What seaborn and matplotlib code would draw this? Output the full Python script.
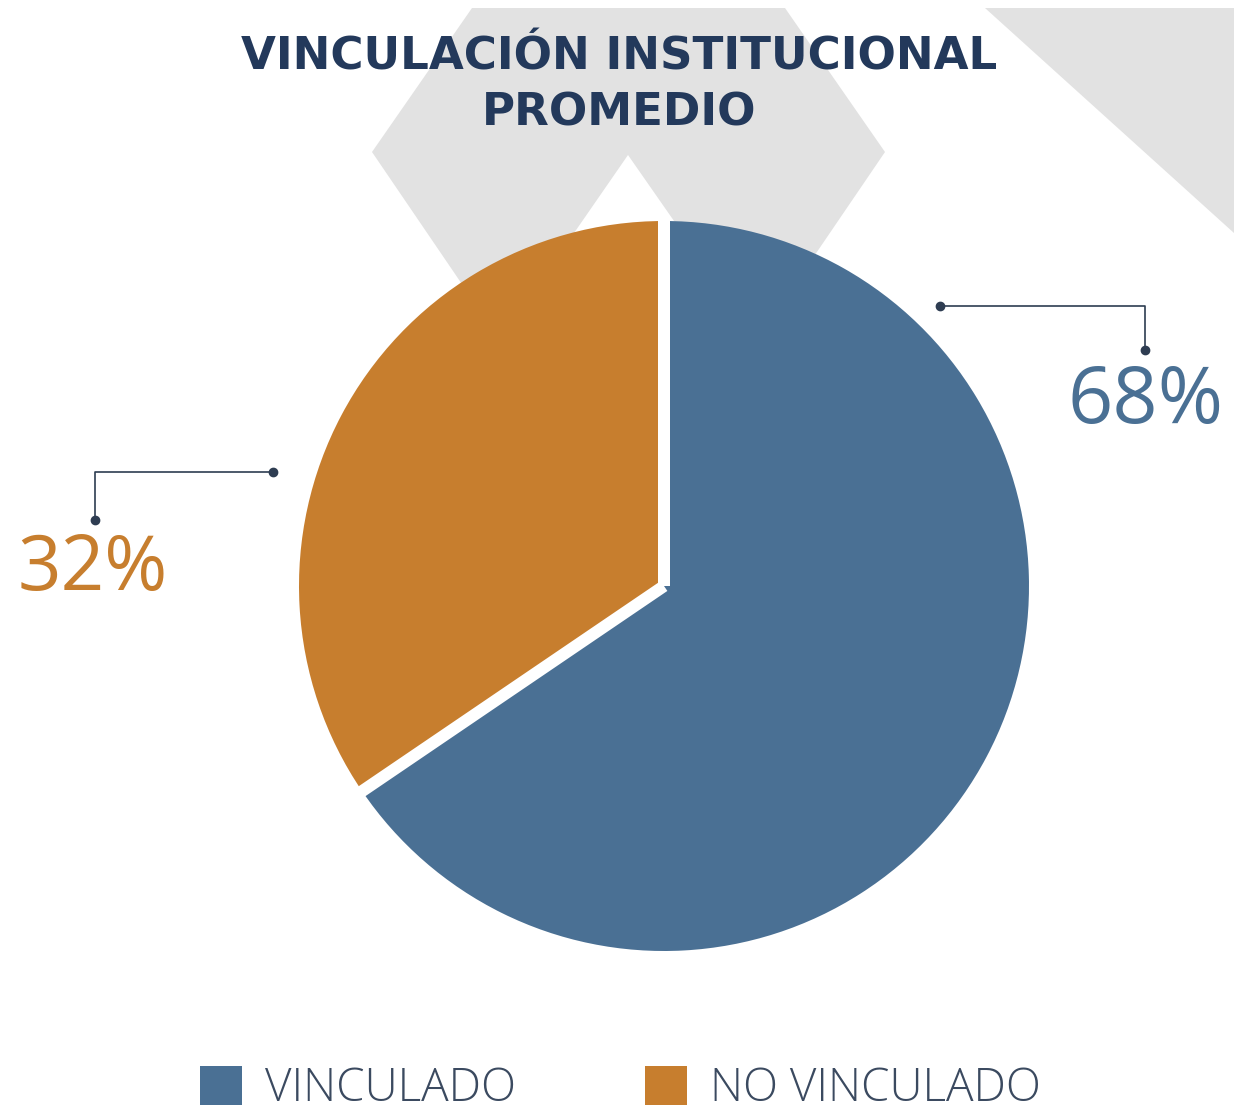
import matplotlib
matplotlib.use("Agg")
import matplotlib.pyplot as plt
import seaborn as sns
import numpy as np
from matplotlib.patches import Polygon, Patch

# ---- data ----
categories = ["VINCULADO", "NO VINCULADO"]
shares = [65.5, 34.5]          # wedge sizes as drawn in the picture
share_labels = ["68%", "32%"]  # printed labels
colors = ["#4A7094", "#C77E2E"]
title_lines = ["VINCULACIÓN INSTITUCIONAL", "PROMEDIO"]

W, H = 1234, 1111
sns.set_theme(style="white")
plt.rcParams["font.family"] = ["DejaVu Sans"]

fig = plt.figure(figsize=(W / 100, H / 100), dpi=100)
ax = fig.add_axes([0, 0, 1, 1])


def Y(y):
    return H - y


# background decoration
gray = "#E2E2E2"
chevron = [(472, 8), (785, 8), (885, 152), (757, 340), (628, 155), (500, 340), (372, 152)]
ax.add_patch(Polygon([(x, Y(y)) for x, y in chevron], closed=True, fc=gray, ec="none", zorder=0))
tri = [(985, 8), (1234, 8), (1234, 233)]
ax.add_patch(Polygon([(x, Y(y)) for x, y in tri], closed=True, fc=gray, ec="none", zorder=0))

# pie
cx, cy, r = 664, 586, 365
wedges, _ = ax.pie(shares, colors=colors, startangle=90, counterclock=False,
                   center=(cx, Y(cy)), radius=r, wedgeprops=dict(linewidth=0))
for w in wedges:
    th = np.deg2rad(w.theta1)
    ax.plot([cx, cx + (r + 3) * np.cos(th)], [Y(cy), Y(cy) + (r + 3) * np.sin(th)],
            color="white", lw=12 * 0.72, solid_capstyle="butt", zorder=5)

ax.set_xlim(0, W)
ax.set_ylim(0, H)
ax.set_aspect("auto")
ax.axis("off")

# title
tcol = "#23395B"
ax.text(619, Y(69), title_lines[0], ha="center", va="baseline", fontsize=32.5,
        fontweight="bold", color=tcol)
ax.text(619, Y(125), title_lines[1], ha="center", va="baseline", fontsize=32.5,
        fontweight="bold", color=tcol)

# leader lines
lcol = "#2E3D52"
ax.plot([940, 1145, 1145], [Y(306), Y(306), Y(350)], color=lcol, lw=1.2,
        marker="o", markersize=6, markevery=[0, 2], zorder=6)
ax.plot([273, 95, 95], [Y(472), Y(472), Y(520)], color=lcol, lw=1.2,
        marker="o", markersize=6, markevery=[0, 2], zorder=6)

# value labels
ax.text(1067, Y(423), share_labels[0], ha="left", va="baseline", fontsize=57,
        family="Open Sans", fontweight="medium", color=colors[0])
ax.text(18, Y(590), share_labels[1], ha="left", va="baseline", fontsize=55,
        family="Open Sans", fontweight="medium", color=colors[1])

# legend
handles = [Patch(facecolor=c, edgecolor="none") for c in colors]
fig.legend(handles, categories, loc="upper left", ncol=2,
           bbox_to_anchor=(200 / W, 1 - 1066 / H), frameon=False,
           prop=dict(family="Open Sans", weight="light", size=33),
           labelcolor="#3B4A60", borderpad=0, borderaxespad=0,
           handlelength=0.92, handleheight=0.92, handletextpad=0.5,
           columnspacing=2.82)

fig.savefig("out.png", dpi=100, facecolor="white")
